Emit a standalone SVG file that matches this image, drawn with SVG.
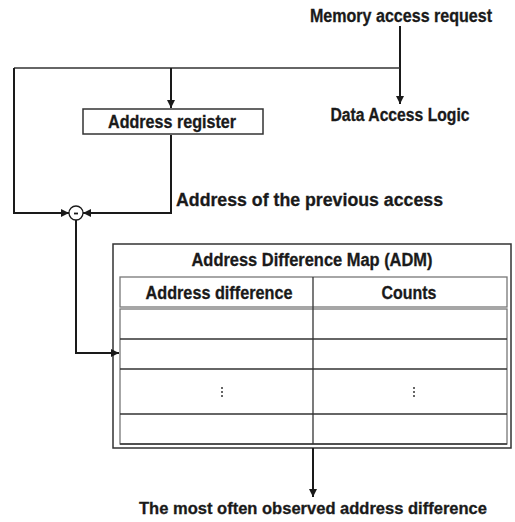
<svg xmlns="http://www.w3.org/2000/svg" width="515" height="522" viewBox="0 0 515 522">
<defs>
<marker id="ah" viewBox="0 0 10 10" refX="10" refY="5" markerWidth="8" markerHeight="8" markerUnits="userSpaceOnUse" orient="auto">
<path d="M0,0 L10,5 L0,10 z" fill="#1a1a1a"/>
</marker>
<style>
.t{font-family:"Liberation Sans",Arial,sans-serif;font-weight:bold;font-size:18px;fill:#1a1a1a;stroke:#1a1a1a;stroke-width:0.3}
.s{font-size:16.5px}
.c{stroke:#1a1a1a;stroke-width:2;fill:none}
.box{fill:#fff;stroke:#333;stroke-width:1.5}
.row{stroke:#333;stroke-width:1.3;fill:none}
.inner{stroke:#777;stroke-width:1.3;fill:none}
</style>
</defs>
<rect width="515" height="522" fill="#fff"/>
<g id="memreq"><text class="t" x="401" y="22" text-anchor="middle" textLength="182" lengthAdjust="spacingAndGlyphs">Memory access request</text></g>
<g id="dal"><text class="t" x="400" y="121" text-anchor="middle" textLength="139" lengthAdjust="spacingAndGlyphs">Data Access Logic</text></g>
<g id="addrreg">
<rect x="83" y="109" width="180" height="25" class="box"/>
<text class="t" x="172" y="128" text-anchor="middle" textLength="128" lengthAdjust="spacingAndGlyphs">Address register</text>
</g>
<g id="prev"><text class="t" x="176" y="206" textLength="267" lengthAdjust="spacingAndGlyphs">Address of the previous access</text></g>
<g id="adm">
<rect x="113" y="244" width="398" height="204" class="box"/>
<text class="t" x="312" y="266" text-anchor="middle" textLength="241" lengthAdjust="spacingAndGlyphs">Address Difference Map (ADM)</text>
<rect x="120" y="277" width="387" height="30" class="inner"/>
<rect x="120" y="309" width="387" height="135" class="inner"/>
<line x1="313" y1="277" x2="313" y2="444" class="row"/>
<line x1="120" y1="339" x2="507" y2="339" class="row"/>
<line x1="120" y1="369" x2="507" y2="369" class="row"/>
<line x1="120" y1="414" x2="507" y2="414" class="row"/>
<line x1="120" y1="444" x2="507" y2="444" class="row"/>
<text class="t" x="219" y="299" text-anchor="middle" textLength="147" lengthAdjust="spacingAndGlyphs">Address difference</text>
<text class="t" x="409" y="299" text-anchor="middle" textLength="55" lengthAdjust="spacingAndGlyphs">Counts</text>
<g fill="#333">
<circle cx="222" cy="388" r="1"/><circle cx="222" cy="392" r="1"/><circle cx="222" cy="396" r="1"/>
<circle cx="414" cy="388" r="1"/><circle cx="414" cy="392" r="1"/><circle cx="414" cy="396" r="1"/>
</g>
</g>
<g id="result"><text class="t s" x="313" y="514" text-anchor="middle" textLength="348" lengthAdjust="spacingAndGlyphs">The most often observed address difference</text></g>
<g id="connectors">
<line x1="400" y1="26" x2="400" y2="104" class="c" marker-end="url(#ah)"/>
<line x1="14" y1="68" x2="400" y2="68" stroke="#333" stroke-width="1.6"/>
<line x1="171" y1="68" x2="171" y2="108" class="c" marker-end="url(#ah)"/>
<polyline points="14,68 14,213 69,213" class="c" marker-end="url(#ah)"/>
<polyline points="171,135 171,213 83,213" class="c" marker-end="url(#ah)"/>
<polyline points="76,220 76,353 119,353" class="c" marker-end="url(#ah)"/>
<line x1="313" y1="448" x2="313" y2="497" class="c" marker-end="url(#ah)"/>
</g>
<g id="sub">
<circle cx="76" cy="213" r="7" fill="#fff" stroke="#1a1a1a" stroke-width="1.3"/>
<line x1="74" y1="213.5" x2="78" y2="213.5" stroke="#1a1a1a" stroke-width="1.8"/>
</g>
</svg>
